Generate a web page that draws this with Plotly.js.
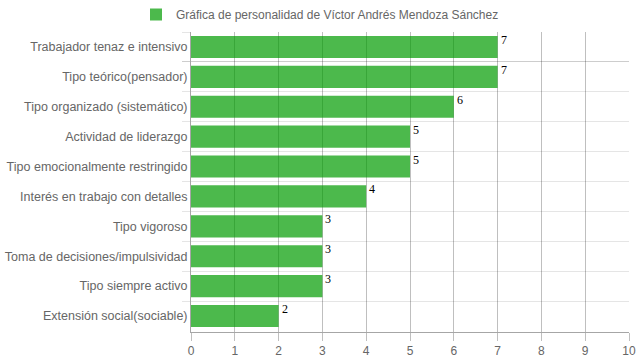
<!DOCTYPE html>
<html><head><meta charset="utf-8">
<script src="https://cdn.plot.ly/plotly-3.0.1.min.js"></script>
<style>html,body{margin:0;padding:0;background:#fff}#chart{width:639px;height:360px}</style>
</head><body><div id="chart"></div>
<script>
var categories = [
  "Trabajador tenaz e intensivo",
  "Tipo teórico(pensador)",
  "Tipo organizado (sistemático)",
  "Actividad de liderazgo",
  "Tipo emocionalmente restringido",
  "Interés en trabajo con detalles",
  "Tipo vigoroso",
  "Toma de decisiones/impulsividad",
  "Tipo siempre activo",
  "Extensión social(sociable)"
];
var values = [7, 7, 6, 5, 5, 4, 3, 3, 3, 2];
var seriesName = "Gráfica de personalidad de Víctor Andrés Mendoza Sánchez";
var xTicks = [0,1,2,3,4,5,6,7,8,9,10];

var trace = {
  type: "bar", orientation: "h",
  x: values, y: categories, name: seriesName,
  marker: {color: "rgba(0,155,0,0.7)", line: {color: "rgba(0,155,0,0.7)", width: 0}},
  hoverinfo: "none"
};

var annotations = values.map(function(v, i){
  return {x: v, y: categories[i], xref: "x", yref: "y", text: String(v),
    showarrow: false, xanchor: "left", yanchor: "middle", xshift: 1, yshift: 7,
    font: {family: "Liberation Serif, Times New Roman, serif", size: 12, color: "#000"}};
});

var layout = {
  width: 639, height: 360,
  margin: {l: 191, r: 10, t: 32, b: 28, autoexpand: false},
  paper_bgcolor: "#fff", plot_bgcolor: "#fff",
  font: {family: "Liberation Sans, Arial, sans-serif", size: 12, color: "#666"},
  bargap: 0.26,
  showlegend: true,
  legend: {orientation: "h", x: 136/639, xanchor: "left", y: 1, yanchor: "top",
    xref: "container", yref: "container", itemwidth: 30,
    font: {size: 12, color: "#666"}},
  xaxis: {range: [0, 10], tickvals: xTicks, ticktext: xTicks.map(String),
    showgrid: true, gridcolor: "rgba(0,0,0,0.25)", gridwidth: 1,
    zeroline: false, showline: true, linecolor: "rgba(0,0,0,0.35)",
    ticks: "outside", ticklen: 8, tickcolor: "rgba(0,0,0,0.25)",
    tickfont: {size: 12, color: "#666"}, fixedrange: true, automargin: false},
  yaxis: {type: "category", autorange: "reversed", tickson: "boundaries",
    showgrid: true, gridcolor: "rgba(0,0,0,0.1)", zeroline: false,
    showline: true, linecolor: "rgba(0,0,0,0.35)",
    ticks: "outside", ticklen: 8, tickcolor: "rgba(0,0,0,0.1)",
    tickfont: {size: 12.5, color: "#666"}, fixedrange: true, automargin: false},
  annotations: annotations
};
Plotly.newPlot("chart", [trace], layout, {displayModeBar: false, staticPlot: true});
</script></body></html>
